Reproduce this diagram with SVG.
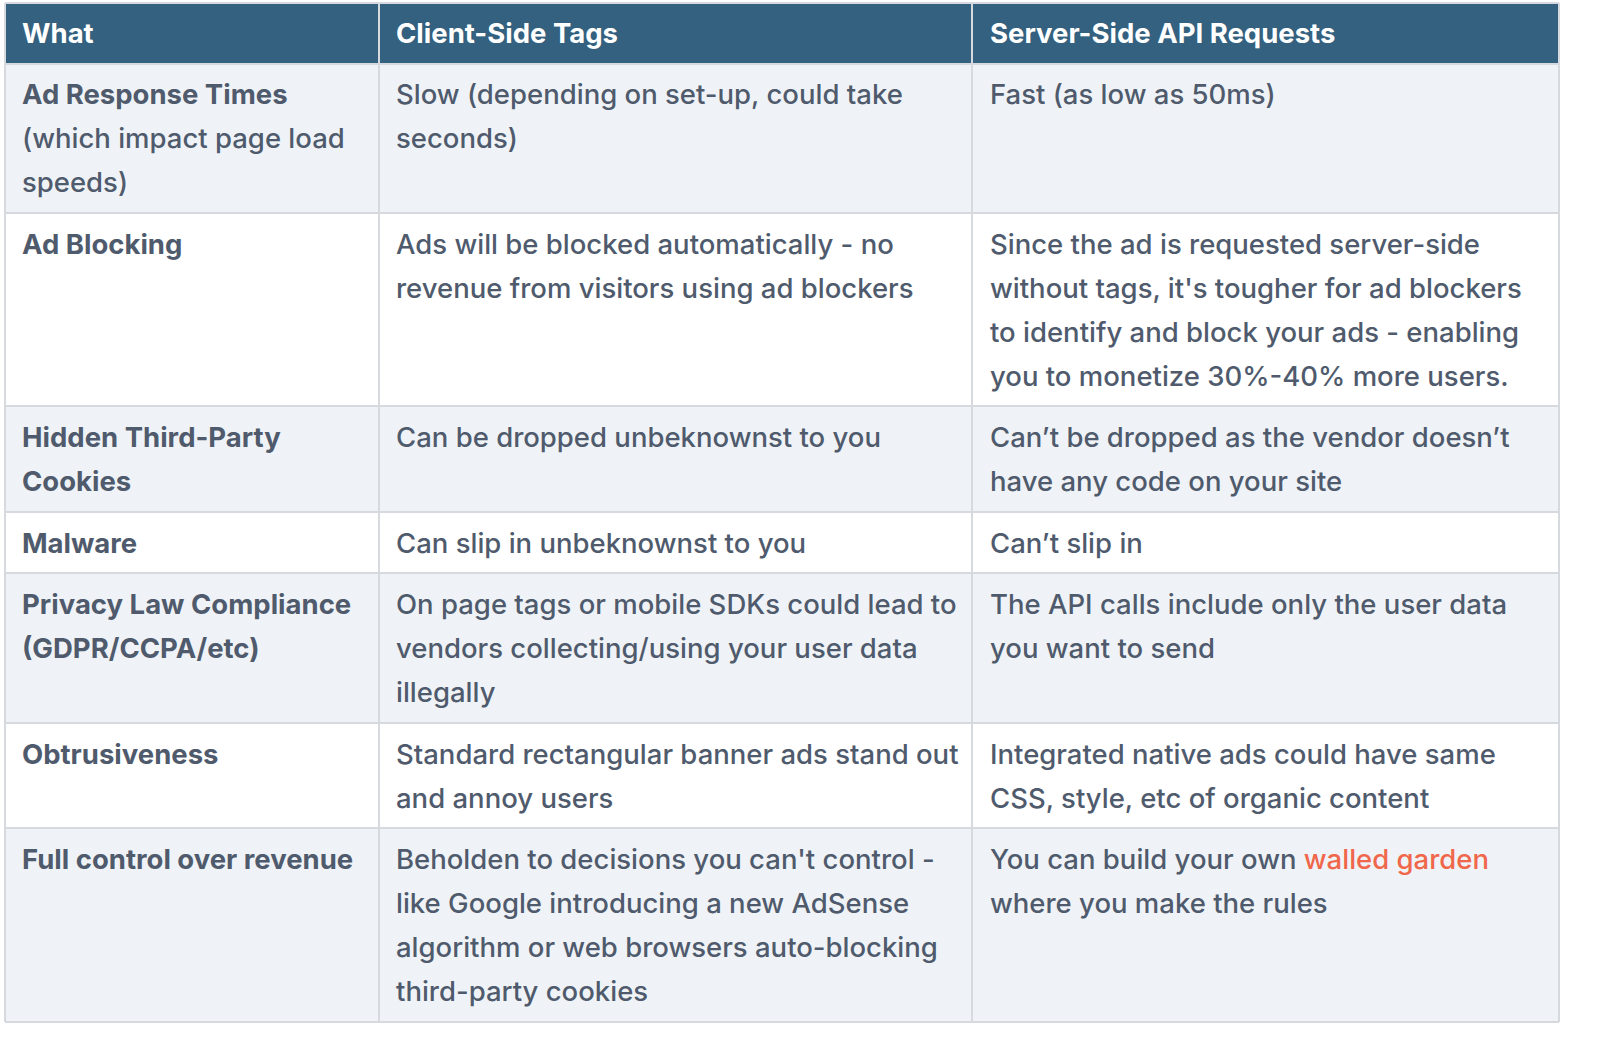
<svg xmlns="http://www.w3.org/2000/svg" width="1612" height="1062" viewBox="0 0 1612 1062">
<style>
text{font-family:Inter,"Noto Sans",sans-serif;font-size:27.5px;fill:#4f5b6d;font-weight:500}
.h{fill:#fff;font-weight:700}
.b{font-weight:700}
.o{fill:#f0674b}
.g{stroke:#d6d9dd;stroke-width:2}
</style>
<rect width="1612" height="1062" fill="#fff"/>
<g id="rows">
<rect x="5" y="3" width="1554" height="61" fill="#33617f"/>
<rect x="5" y="64" width="1554" height="149" fill="#eff3f7"/>
<rect x="5" y="406" width="1554" height="106" fill="#eff3f7"/>
<rect x="5" y="573" width="1554" height="150" fill="#eff3f7"/>
<rect x="5" y="828" width="1554" height="194" fill="#eff3f7"/>
</g>
<g id="grid" class="g">
<line x1="5" y1="3" x2="1559" y2="3"/>
<line x1="5" y1="64" x2="1559" y2="64"/>
<line x1="5" y1="213" x2="1559" y2="213"/>
<line x1="5" y1="406" x2="1559" y2="406"/>
<line x1="5" y1="512" x2="1559" y2="512"/>
<line x1="5" y1="573" x2="1559" y2="573"/>
<line x1="5" y1="723" x2="1559" y2="723"/>
<line x1="5" y1="828" x2="1559" y2="828"/>
<line x1="5" y1="1022" x2="1559" y2="1022"/>
<line x1="5" y1="3" x2="5" y2="1022"/>
<line x1="379" y1="3" x2="379" y2="1022"/>
<line x1="972" y1="3" x2="972" y2="1022"/>
<line x1="1559" y1="3" x2="1559" y2="1022"/>
</g>
<g id="header">
<text class="h" x="22" y="43">What</text>
<text class="h" x="396" y="43">Client-Side Tags</text>
<text class="h" x="990" y="43">Server-Side API Requests</text>
</g>
<g id="r1">
<text class="b" x="22" y="104">Ad Response Times</text>
<text x="22" y="148">(which impact page load</text>
<text x="22" y="192">speeds)</text>
<text x="396" y="104">Slow (depending on set-up, could take</text>
<text x="396" y="148">seconds)</text>
<text x="990" y="104">Fast (as low as 50ms)</text>
</g>
<g id="r2">
<text class="b" x="22" y="254">Ad Blocking</text>
<text x="396" y="254">Ads will be blocked automatically - no</text>
<text x="396" y="298">revenue from visitors using ad blockers</text>
<text x="990" y="254">Since the ad is requested server-side</text>
<text x="990" y="298">without tags, it's tougher for ad blockers</text>
<text x="990" y="342">to identify and block your ads - enabling</text>
<text x="990" y="386">you to monetize 30%-40% more users.</text>
</g>
<g id="r3">
<text class="b" x="22" y="447">Hidden Third-Party</text>
<text class="b" x="22" y="491">Cookies</text>
<text x="396" y="447">Can be dropped unbeknownst to you</text>
<text x="990" y="447">Can’t be dropped as the vendor doesn’t</text>
<text x="990" y="491">have any code on your site</text>
</g>
<g id="r4">
<text class="b" x="22" y="553">Malware</text>
<text x="396" y="553">Can slip in unbeknownst to you</text>
<text x="990" y="553">Can’t slip in</text>
</g>
<g id="r5">
<text class="b" x="22" y="614">Privacy Law Compliance</text>
<text class="b" x="22" y="658">(GDPR/CCPA/etc)</text>
<text x="396" y="614">On page tags or mobile SDKs could lead to</text>
<text x="396" y="658">vendors collecting/using your user data</text>
<text x="396" y="702">illegally</text>
<text x="990" y="614">The API calls include only the user data</text>
<text x="990" y="658">you want to send</text>
</g>
<g id="r6">
<text class="b" x="22" y="764">Obtrusiveness</text>
<text x="396" y="764">Standard rectangular banner ads stand out</text>
<text x="396" y="808">and annoy users</text>
<text x="990" y="764">Integrated native ads could have same</text>
<text x="990" y="808">CSS, style, etc of organic content</text>
</g>
<g id="r7">
<text class="b" x="22" y="869">Full control over revenue</text>
<text x="396" y="869">Beholden to decisions you can't control -</text>
<text x="396" y="913">like Google introducing a new AdSense</text>
<text x="396" y="957">algorithm or web browsers auto-blocking</text>
<text x="396" y="1001">third-party cookies</text>
<text x="990" y="869">You can build your own <tspan class="o">walled garden</tspan></text>
<text x="990" y="913">where you make the rules</text>
</g>
</svg>
